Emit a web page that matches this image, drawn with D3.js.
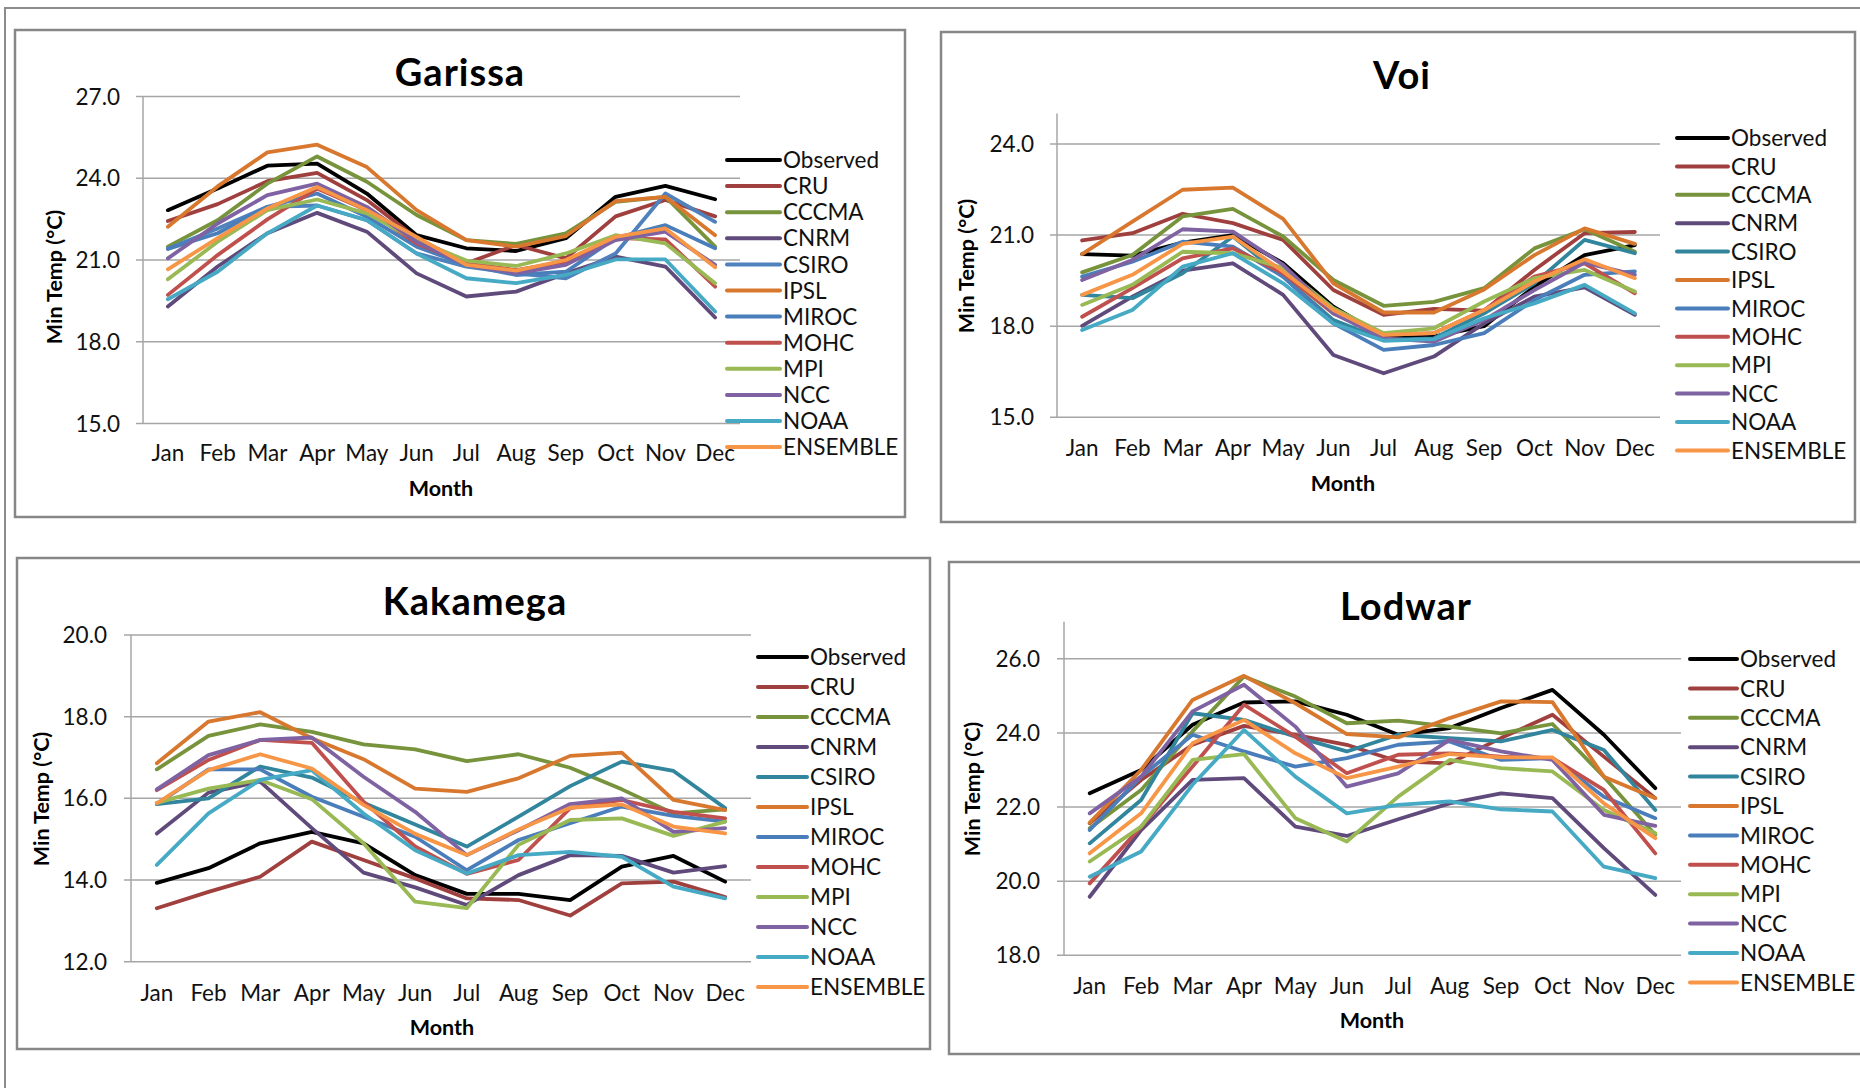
<!DOCTYPE html>
<html>
<head>
<meta charset="utf-8">
<script src="https://cdn.jsdelivr.net/npm/d3@7"></script>
<style>
  body { margin: 0; background: #fff; }
  svg { display: block; font-family: Lato, "Open Sans", sans-serif; }
  .tick-label, .month-label, .legend-label { font-size: 22.5px; fill: #111; }
  .chart-title { font-size: 38px; font-weight: bold; fill: #000; letter-spacing: 1px; }
  .axis-title { font-size: 21.5px; font-weight: bold; fill: #000; }
</style>
</head>
<body>
<div id="chart"></div>
<script>
const months = ["Jan", "Feb", "Mar", "Apr", "May", "Jun", "Jul", "Aug", "Sep", "Oct", "Nov", "Dec"];
const seriesNames = ["Observed", "CRU", "CCCMA", "CNRM", "CSIRO", "IPSL", "MIROC", "MOHC", "MPI", "NCC", "NOAA", "ENSEMBLE"];
const seriesColors = ["#000000", "#A0403E", "#77933C", "#604A7B", "#31859C", "#D8782F", "#4A7EBB", "#C0504D", "#98B954", "#7F62A1", "#46AAC5", "#F79646"];
// Garissa legend shows CSIRO in plain blue
const garissaColors = seriesColors.map((c, i) => seriesNames[i] === "CSIRO" ? "#4F81BD" : c);

// values in series order (Observed, CRU, CCCMA, ... ENSEMBLE)
const garissaValues = [
    [22.83, 23.62, 24.46, 24.54, 23.44, 21.91, 21.43, 21.33, 21.8, 23.32, 23.72, 23.23],
    [22.43, 23.05, 23.89, 24.2, 23.2, 21.8, 20.88, 21.55, 21.06, 22.6, 23.2, 22.6],
    [21.49, 22.46, 23.8, 24.8, 23.87, 22.65, 21.73, 21.59, 21.98, 23.13, 23.32, 21.49],
    [19.29, 20.76, 21.98, 22.73, 22.04, 20.51, 19.66, 19.84, 20.51, 21.12, 20.76, 18.89],
    [21.41, 22.16, 22.95, 23.0, 22.46, 21.24, 20.76, 20.51, 20.33, 21.24, 23.44, 22.4],
    [22.22, 23.7, 24.95, 25.23, 24.41, 22.83, 21.73, 21.49, 21.88, 23.16, 23.32, 21.91],
    [21.41, 21.98, 22.95, 23.44, 22.59, 21.49, 20.82, 20.45, 20.57, 21.8, 22.28, 21.43],
    [19.72, 21.18, 22.49, 23.62, 22.83, 21.61, 20.88, 20.63, 20.94, 21.8, 21.76, 20.02],
    [20.29, 21.67, 22.83, 23.22, 22.71, 21.73, 20.98, 20.78, 21.24, 21.91, 21.61, 20.15],
    [21.06, 22.34, 23.38, 23.8, 22.95, 21.67, 20.82, 20.51, 20.82, 21.73, 22.04, 20.82],
    [19.56, 20.57, 21.98, 23.0, 22.46, 21.24, 20.33, 20.15, 20.45, 21.02, 21.02, 19.11],
    [20.66, 21.8, 22.89, 23.68, 22.83, 21.85, 20.82, 20.61, 21.0, 21.85, 22.16, 20.73]
];
const voiValues = [
    [20.37, 20.32, 20.75, 21.0, 20.07, 18.64, 17.66, 17.66, 18.0, 19.3, 20.34, 20.67],
    [20.82, 21.06, 21.7, 21.39, 20.84, 19.19, 18.37, 18.57, 18.51, 19.85, 21.06, 21.1],
    [19.77, 20.34, 21.61, 21.86, 20.95, 19.52, 18.67, 18.8, 19.25, 20.56, 21.19, 20.45],
    [18.01, 18.97, 19.83, 20.07, 19.03, 17.05, 16.45, 17.0, 18.09, 18.97, 19.28, 18.37],
    [19.03, 18.92, 19.74, 20.95, 19.63, 18.2, 17.55, 17.6, 18.42, 19.41, 20.84, 20.4],
    [20.37, 21.44, 22.49, 22.56, 21.53, 19.41, 18.45, 18.45, 19.21, 20.34, 21.22, 20.71],
    [19.63, 20.12, 20.78, 20.62, 19.63, 18.09, 17.22, 17.38, 17.77, 18.86, 19.69, 19.8],
    [18.31, 19.25, 20.23, 20.56, 19.74, 18.42, 17.71, 17.77, 18.53, 19.63, 20.07, 19.08],
    [18.7, 19.36, 20.45, 20.4, 19.91, 18.59, 17.77, 17.93, 18.81, 19.58, 19.85, 19.14],
    [19.52, 20.18, 21.19, 21.11, 20.02, 18.42, 17.6, 17.49, 18.2, 19.19, 20.09, 19.69],
    [17.87, 18.53, 19.96, 20.4, 19.41, 18.09, 17.52, 17.57, 18.26, 18.75, 19.36, 18.42],
    [19.03, 19.69, 20.71, 20.95, 19.8, 18.53, 17.71, 17.77, 18.53, 19.47, 20.2, 19.58]
];
const kakamegaValues = [
    [13.93, 14.29, 14.9, 15.18, 14.9, 14.12, 13.66, 13.66, 13.51, 14.33, 14.59, 13.96],
    [13.31, 13.71, 14.08, 14.94, 14.49, 14.04, 13.55, 13.51, 13.13, 13.92, 13.96, 13.58],
    [16.71, 17.53, 17.81, 17.63, 17.32, 17.2, 16.91, 17.08, 16.75, 16.22, 15.63, 15.73],
    [15.14, 16.14, 16.41, 15.27, 14.18, 13.82, 13.39, 14.12, 14.61, 14.59, 14.18, 14.34],
    [15.86, 16.0, 16.78, 16.51, 15.89, 15.36, 14.82, 15.55, 16.3, 16.9, 16.67, 15.76],
    [16.86, 17.88, 18.11, 17.47, 16.96, 16.24, 16.16, 16.49, 17.04, 17.12, 15.96, 15.71],
    [15.86, 16.71, 16.71, 16.04, 15.55, 15.06, 14.24, 14.98, 15.39, 15.8, 15.57, 15.43],
    [16.2, 16.94, 17.43, 17.36, 15.92, 14.82, 14.15, 14.49, 15.76, 15.96, 15.67, 15.51],
    [15.89, 16.24, 16.45, 15.98, 14.9, 13.47, 13.31, 14.86, 15.47, 15.51, 15.08, 15.43],
    [16.22, 17.06, 17.43, 17.49, 16.53, 15.67, 14.61, 15.22, 15.86, 16.0, 15.18, 15.27],
    [14.37, 15.63, 16.45, 16.69, 15.63, 14.73, 14.16, 14.61, 14.69, 14.57, 13.84, 13.55],
    [15.88, 16.69, 17.08, 16.73, 15.84, 15.13, 14.61, 15.24, 15.77, 15.85, 15.31, 15.14]
];
const lodwarValues = [
    [22.37, 23.0, 24.22, 24.82, 24.85, 24.49, 23.95, 24.13, 24.67, 25.16, 23.95, 22.51],
    [21.56, 22.73, 23.68, 24.19, 23.95, 23.68, 23.23, 23.18, 23.86, 24.49, 23.36, 22.24],
    [21.43, 22.46, 24.04, 25.52, 24.98, 24.26, 24.33, 24.17, 23.99, 24.24, 22.82, 21.25],
    [19.58, 21.38, 22.73, 22.78, 21.47, 21.22, 21.67, 22.1, 22.37, 22.24, 20.89, 19.63],
    [21.02, 22.19, 24.53, 24.35, 23.9, 23.5, 23.95, 23.86, 23.77, 24.08, 23.54, 21.92],
    [21.58, 23.0, 24.89, 25.54, 24.8, 23.97, 23.88, 24.4, 24.85, 24.83, 22.82, 22.24],
    [21.38, 22.82, 23.95, 23.5, 23.09, 23.32, 23.68, 23.77, 23.27, 23.32, 22.28, 21.7],
    [19.94, 21.47, 23.09, 24.76, 23.9, 22.91, 23.41, 23.45, 23.36, 23.32, 22.46, 20.75],
    [20.53, 21.47, 23.27, 23.43, 21.7, 21.07, 22.28, 23.27, 23.05, 22.96, 21.92, 21.29],
    [21.83, 22.82, 24.58, 25.3, 24.17, 22.55, 22.91, 23.81, 23.5, 23.27, 21.79, 21.49],
    [20.12, 20.8, 22.6, 24.08, 22.82, 21.83, 22.06, 22.15, 21.94, 21.88, 20.39, 20.08],
    [20.75, 21.83, 23.72, 24.35, 23.45, 22.78, 23.09, 23.43, 23.34, 23.34, 22.1, 21.16]
];

const garissaTicks = [15, 18, 21, 24, 27];
const voiTicks = [15, 18, 21, 24];
const kakamegaTicks = [12, 14, 16, 18, 20];
const lodwarTicks = [18, 20, 22, 24, 26];

// layout of the four chart boxes (pixels)
const panels = [
    {title: "Garissa", values: garissaValues, colors: garissaColors, domain: [15, 27], ticks: garissaTicks,
     frame: [15, 30, 905, 517], plot: [143, 740, 96.5, 423.5], titleXY: [460, 86], tickRight: 120,
     monthY: 453, monthTitle: [441, 496], yTitle: [54, 277], legend: [727, 780, 160, 26.1]},
    {title: "Voi", values: voiValues, colors: seriesColors, domain: [15, 25], ticks: voiTicks,
     frame: [941, 32, 1855, 522], plot: [1057, 1660, 113.5, 417.3], titleXY: [1402, 89], tickRight: 1034,
     monthY: 448, monthTitle: [1343, 491], yTitle: [966, 266], legend: [1677, 1728, 138, 28.4]},
    {title: "Kakamega", values: kakamegaValues, colors: seriesColors, domain: [12, 20], ticks: kakamegaTicks,
     frame: [17, 558, 930, 1049], plot: [131, 751, 635, 961.7], titleXY: [475, 615], tickRight: 107,
     monthY: 993, monthTitle: [442, 1035], yTitle: [41, 799], legend: [758, 807, 657, 30]},
    {title: "Lodwar", values: lodwarValues, colors: seriesColors, domain: [18, 27], ticks: lodwarTicks,
     frame: [949, 562, 1880, 1054], plot: [1064, 1681, 621.7, 955.3], titleXY: [1406, 620], tickRight: 1040,
     monthY: 986, monthTitle: [1372, 1028], yTitle: [972, 789], legend: [1690, 1737, 659, 29.4]}
];

const width = 1860, height = 1088;
const svg = d3.select("#chart").append("svg").attr("width", width).attr("height", height);

// outer page border
svg.append("rect").attr("x", 5).attr("y", 8).attr("width", 1900).attr("height", 1200)
    .attr("fill", "none").attr("stroke", "#8c8c8c").attr("stroke-width", 2);

function drawPanel(p) {
    const g = svg.append("g");
    const [fx0, fy0, fx1, fy1] = p.frame;
    const [px0, px1, pyTop, pyBot] = p.plot;

    g.append("rect").attr("x", fx0).attr("y", fy0).attr("width", fx1 - fx0).attr("height", fy1 - fy0)
        .attr("fill", "#fff").attr("stroke", "#878787").attr("stroke-width", 2.5);

    const x = d3.scalePoint().domain(months).range([px0, px1]).padding(0.5);
    const y = d3.scaleLinear().domain(p.domain).range([pyBot, pyTop]);

    // gridlines + tick marks
    g.selectAll(".grid").data(p.ticks).enter().append("line")
        .attr("x1", px0 - 7).attr("x2", px1)
        .attr("y1", d => y(d)).attr("y2", d => y(d))
        .attr("stroke", "#a6a6a6").attr("stroke-width", 1.5);
    g.append("line").attr("x1", px0).attr("x2", px0).attr("y1", y(p.domain[1])).attr("y2", pyBot)
        .attr("stroke", "#a6a6a6").attr("stroke-width", 1.5);

    g.selectAll(".tick-label").data(p.ticks).enter().append("text")
        .attr("class", "tick-label").attr("x", p.tickRight).attr("y", d => y(d)).attr("dy", "0.36em")
        .attr("text-anchor", "end").text(d => d3.format(".1f")(d));

    g.selectAll(".month-label").data(months).enter().append("text")
        .attr("class", "month-label").attr("x", d => x(d)).attr("y", p.monthY).attr("dy", "0.36em")
        .attr("text-anchor", "middle").text(d => d);

    g.append("text").attr("class", "chart-title").attr("x", p.titleXY[0]).attr("y", p.titleXY[1])
        .attr("text-anchor", "middle").text(p.title);
    g.append("text").attr("class", "axis-title").attr("x", p.monthTitle[0]).attr("y", p.monthTitle[1])
        .attr("text-anchor", "middle").text("Month");
    g.append("text").attr("class", "axis-title")
        .attr("transform", `translate(${p.yTitle[0]},${p.yTitle[1]}) rotate(-90)`)
        .attr("dy", "0.36em").attr("text-anchor", "middle").text("Min Temp (°C)");

    const line = d3.line().x((d, i) => x(months[i])).y(d => y(d));
    g.selectAll(".series").data(p.values).enter().append("path")
        .attr("d", line).attr("fill", "none")
        .attr("stroke", (d, i) => p.colors[i]).attr("stroke-width", 3.8)
        .attr("stroke-linejoin", "round").attr("stroke-linecap", "round");

    const [lx0, lx1, ly0, lstep] = p.legend;
    const leg = g.selectAll(".legend").data(seriesNames).enter().append("g")
        .attr("transform", (d, i) => `translate(0,${ly0 + i * lstep})`);
    leg.append("line").attr("x1", lx0).attr("x2", lx1).attr("y1", 0).attr("y2", 0)
        .attr("stroke", (d, i) => p.colors[i]).attr("stroke-width", 4).attr("stroke-linecap", "round");
    leg.append("text").attr("class", "legend-label").attr("x", lx1 + 3).attr("dy", "0.36em").text(d => d);
}

panels.forEach(drawPanel);
</script>
</body>
</html>
